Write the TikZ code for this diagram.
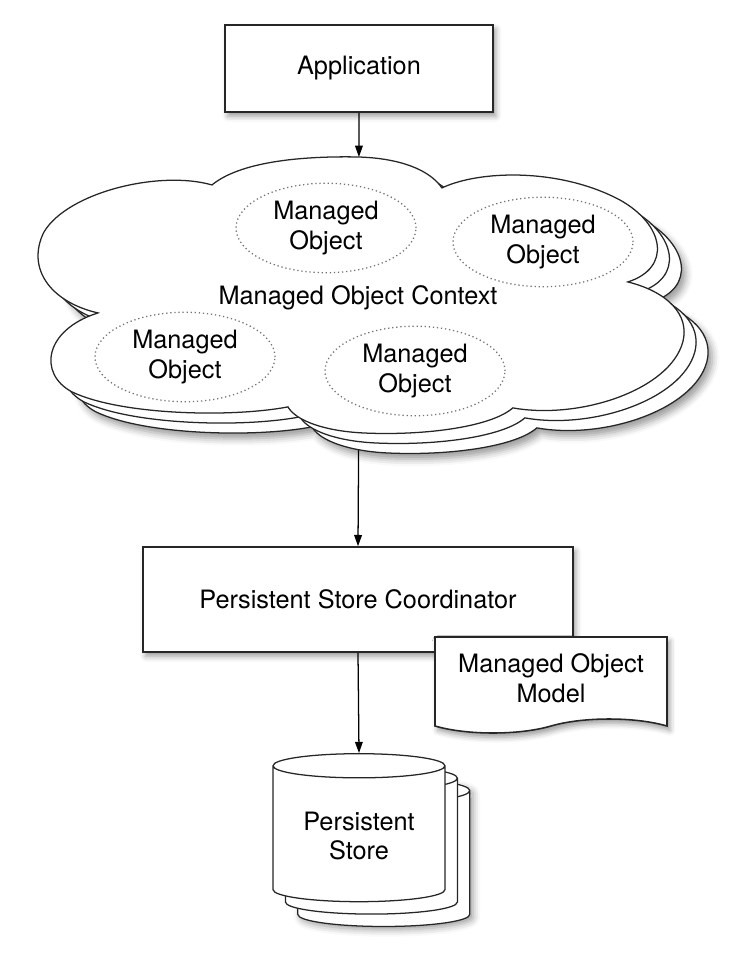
\documentclass[tikz,border=0pt]{standalone}
\usepackage{fontspec}
\setmainfont{TeX Gyre Heros}
\usetikzlibrary{shapes.geometric, shapes.symbols, arrows.meta, shadows, shadows.blur, backgrounds}
% outline of the context cloud, in pixel units
\newcommand{\ctxoutline}{(212,185) .. controls (240,162) and (300,156) .. (357,157)
  .. controls (400,158) and (430,170) .. (442,188)
  .. controls (480,170) and (560,168) .. (620,200)
  .. controls (665,225) and (672,268) .. (628,282)
  .. controls (668,292) and (690,315) .. (683,342)
  .. controls (670,390) and (580,420) .. (513,408)
  .. controls (490,428) and (420,436) .. (362,433)
  .. controls (325,431) and (296,421) .. (288,407)
  .. controls (230,418) and (120,415) .. (72,392)
  .. controls (38,374) and (44,330) .. (98,313)
  .. controls (50,302) and (26,268) .. (44,232)
  .. controls (68,192) and (160,170) .. (212,185) -- cycle}
\tikzset{
  box/.style={rectangle, draw=black!85, line width=1.1pt, fill=white, text centered, blur shadow={shadow xshift=2pt, shadow yshift=-3pt, shadow blur radius=4pt}},
  ctxshape/.style={draw=black!85, line width=0.9pt, fill=white},
  mobj/.style={ellipse, draw=black!55, dotted, line width=0.9pt, minimum width=4.5cm, minimum height=2.15cm, align=center},
  modeldoc/.style={tape, tape bend top=none, tape bend bottom=in and out, tape bend height=0.35cm, draw=black!85, line width=1.1pt, fill=white, minimum width=5.8cm, minimum height=2.4cm, align=center, blur shadow={shadow xshift=2pt, shadow yshift=-3pt, shadow blur radius=4pt}},
  storedb/.style={cylinder, shape border rotate=90, aspect=0.2, draw=black!85, line width=0.9pt, fill=white, minimum width=4.3cm, minimum height=3.7cm, align=center,
    blur shadow={shadow xshift=0.7cm, shadow yshift=-0.7cm, shadow blur radius=5pt},
    copy shadow={shadow xshift=0.62cm, shadow yshift=-0.62cm, line width=0.9pt, draw=black!85},
    copy shadow={shadow xshift=0.31cm, shadow yshift=-0.31cm, line width=0.9pt, draw=black!85}},
  conn/.style={line width=0.9pt, -{Triangle[length=8pt, width=5.5pt]}}
}
\begin{document}
\begin{tikzpicture}[every node/.style={font=\fontsize{18pt}{21.3pt}\selectfont}]
\useasboundingbox (0,0) rectangle (18.725,-24.075);
% application on top
\node[box, minimum width=6.7cm, minimum height=2.175cm] (app) at (8.975,-1.7125) {Application};

% context cloud, stacked three times
\begin{scope}[x=0.025cm, y=-0.025cm]
\path[ctxshape, blur shadow={shadow xshift=3pt, shadow yshift=-4pt, shadow blur radius=5pt}, shift={(24,20)}] \ctxoutline;
\path[ctxshape, shift={(12,10)}] \ctxoutline;
\path[ctxshape] \ctxoutline;
\coordinate (ctxtop) at (359,157);
\coordinate (ctxbot) at (359,400);
\end{scope}
\node (ctxlabel) at (8.95,-7.45) {Managed Object Context};
\node[mobj] (mo1) at (8.15,-5.7) {Managed\\Object};
\node[mobj] (mo2) at (13.575,-6.05) {Managed\\Object};
\node[mobj] (mo3) at (4.625,-8.925) {Managed\\Object};
\node[mobj] (mo4) at (10.375,-9.275) {Managed\\Object};

% coordinator, model and store
\node[box, minimum width=10.75cm, minimum height=2.625cm] (psc) at (8.95,-14.9875) {Persistent Store Coordinator};
\node[modeldoc] (mom) at (13.775,-16.95) {Managed Object\\Model};
\node[storedb] (store) at (8.975,-20.9) {Persistent\\Store};

\draw[conn] (app.south) -- (ctxtop);
\begin{scope}[on background layer]
\draw[conn] (ctxbot) -- (psc.north);
\end{scope}
\draw[conn] (psc.south) -- (store.north);
\end{tikzpicture}
\end{document}
